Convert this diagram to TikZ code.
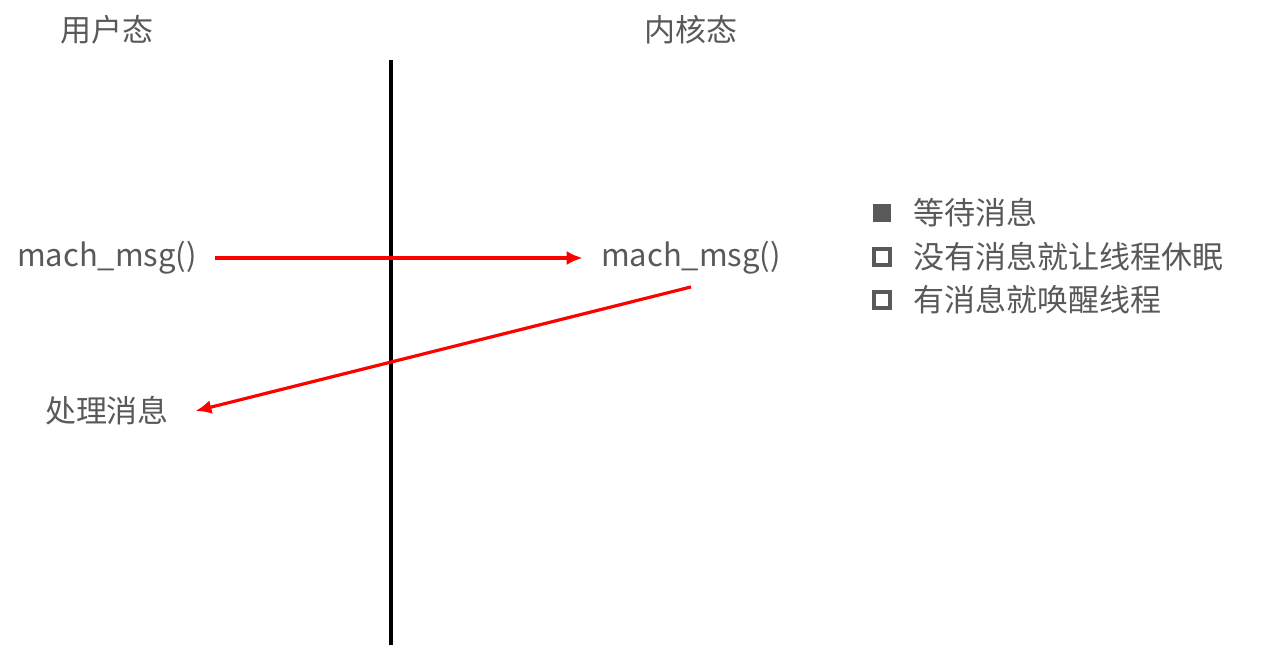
\documentclass[tikz,border=0pt]{standalone}
\usepackage{fontspec}
\setmainfont{Noto Sans CJK SC}
\usetikzlibrary{arrows.meta}
\definecolor{textgray}{HTML}{595959}
\definecolor{msgred}{HTML}{FF0000}
\definecolor{bulletgray}{HTML}{595959}
\begin{document}
\begin{tikzpicture}[x=0.5pt,y=-0.5pt,
	labelnode/.style={text=textgray, font=\fontsize{15.5pt}{18pt}\selectfont, inner sep=0pt},
	itemnode/.style={text=textgray, font=\fontsize{15.5pt}{18pt}\selectfont, inner sep=0pt, anchor=west},
	fullbox/.style={draw=bulletgray, fill=bulletgray, minimum size=8.5pt, inner sep=0pt},
	hollowbox/.style={draw=bulletgray, line width=2pt, fill=white, minimum size=8pt, inner sep=0pt},
	msgarrow/.style={msgred, line width=1.6pt, -{Latex[length=8pt,width=7pt]}},
	]
	\useasboundingbox (0,0) rectangle (1280,648);
	%Nodes
	\node[labelnode]	(user) 	at	(107,30) 	{用户态};
	\node[labelnode]	(kernel) 	at	(691,30) 	{内核态};
	\node[labelnode]	(umsg) 	at	(107,258) 	{mach\_msg()};
	\node[labelnode]	(kmsg) 	at	(691,258) 	{mach\_msg()};
	\node[labelnode]	(handle) 	at	(107,411) 	{处理消息};
	\coordinate		(top) 	at	(391,60);
	\coordinate		(bottom) 	at	(391,645);
	\node[fullbox]	(b1) 	at	(882,213) 	{};
	\node[hollowbox]	(b2) 	at	(882,257) 	{};
	\node[hollowbox]	(b3) 	at	(882,300) 	{};
	\node[itemnode]	(t1) 	at	(913,213) 	{等待消息};
	\node[itemnode]	(t2) 	at	(913,257) 	{没有消息就让线程休眠};
	\node[itemnode]	(t3) 	at	(913,300) 	{有消息就唤醒线程};
	%Lines
	\draw[line width=2pt] (top) -- (bottom);
	\draw[msgarrow] ([xshift=9pt]umsg.east) -- ([xshift=-9pt]kmsg.west);
	\draw[msgarrow] ([yshift=-6pt]kmsg.south) -- ([xshift=13pt]handle.east);
\end{tikzpicture}
\end{document}
